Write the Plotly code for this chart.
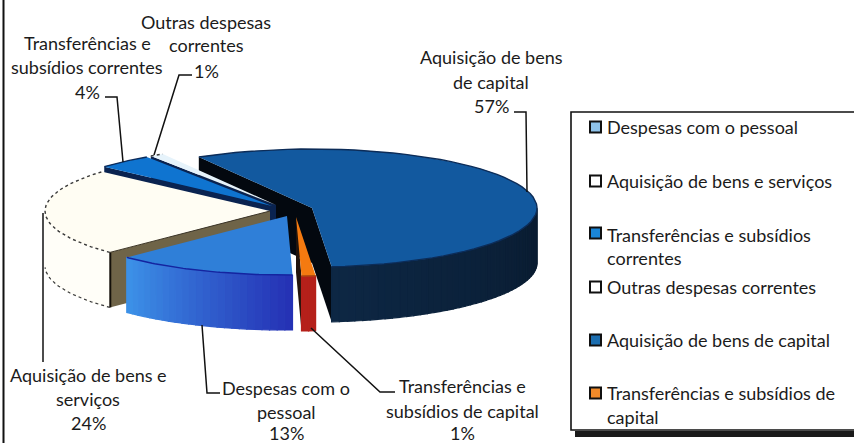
import math
import plotly.graph_objects as go

# ---- data ----
categories = ["Despesas com o pessoal", "Aquisição de bens e serviços",
              "Transferências e subsídios correntes", "Outras despesas correntes",
              "Aquisição de bens de capital", "Transferências e subsídios de capital"]
percent = [13, 24, 4, 1, 57, 1]

# ---- look ----
FONT = "Lato"
TXT = "#1b1b1b"
W, H = 854, 443
RX, RY, DEPTH = 225, 59, 55
# slice centres after "explosion", in page pixels
centres = [(287, 216), (270, 211), (272, 206), (276, 205), (312, 208), (296, 217)]
top_col = ["#2f7fd8", "#fffdf3", "#0f74d0", "#e6f3fb", "#12599f", "#f47a10"]
side_a = ["#2530b4", "#fffef8", "#0a2a5a", "#0a2a5a", "#040a12", "#b5201a"]
side_b = ["#3c92e8", "#fffef8", "#0a2a5a", "#0a2a5a", "#0d2744", "#b5201a"]
face_col = ["#101a50", "#6f6448", "#0a2350", "#0a2350", "#03080f", "#21140c"]
rim_col = ["#1424a0", "#3a3a3a", "#0a2a5a", "#3a3a3a", "#0c2c58", "#b04a10"]
rim_dash = ["solid", "dot", "solid", "dot", "solid", "solid"]
# which cut faces show: start / end of the clockwise sweep
show_face = [(False, False), (True, False), (True, False), (True, False), (True, True), (False, True)]
draw_order = [4, 3, 2, 1, 5, 0]

legend_fill = ["#8fc3ea", "#ffffff", "#1a86d8", "#ffffff", "#1c6eb0", "#f08a2a"]
legend_y = [127, 181, 233, 287, 340, 393]
legend_lines = [
    [("Despesas com o pessoal", 127)],
    [("Aquisição de bens e serviços", 181)],
    [("Transferências e subsídios", 235), ("correntes", 258)],
    [("Outras despesas correntes", 287)],
    [("Aquisição de bens de capital", 340)],
    [("Transferências e subsídios de", 393), ("capital", 417)],
]
labels = [
    (["Despesas com o", "pessoal", "13%"], 286, [388, 412, 433], [(202, 325), (207, 393), (220, 393)]),
    (["Aquisição de bens e", "serviços", "24%"], 88, [375, 399, 423], [(43, 213), (43, 362)]),
    (["Transferências e", "subsídios correntes", "4%"], 87, [43, 67, 92], [(105, 97), (117, 97), (123, 162)]),
    (["Outras despesas", "correntes", "1%"], 206, [22, 45, 71], [(192, 75), (179, 75), (154, 155)]),
    (["Aquisição de bens", "de capital", "57%"], 491, [57, 82, 106], [(514, 112), (526, 112), (527, 192)]),
    (["Transferências e", "subsídios de capital", "1%"], 462, [386, 411, 433], [(311, 328), (380, 392), (395, 392)]),
]

fig = go.Figure()


def poly(xs, ys, fill, line=None, width=0, dash="solid"):
    fig.add_trace(go.Scatter(x=xs, y=ys, mode="lines", fill="toself", fillcolor=fill,
                             line=dict(color=line or fill, width=width, dash=dash),
                             hoverinfo="skip", showlegend=False))


def line(xs, ys, col, width=1.0, dash="solid"):
    fig.add_trace(go.Scatter(x=xs, y=ys, mode="lines", line=dict(color=col, width=width, dash=dash),
                             hoverinfo="skip", showlegend=False))


def hex_mix(a, b, t):
    ca = [int(a[i:i + 2], 16) for i in (1, 3, 5)]
    cb = [int(b[i:i + 2], 16) for i in (1, 3, 5)]
    return "#" + "".join(f"{round(x + (y - x) * t):02x}" for x, y in zip(ca, cb))


def rim(c, deg):
    r = math.radians(deg)
    return c[0] + RX * math.cos(r), c[1] - RY * math.sin(r)


# sweep clockwise from the first slice's start
spans = []
a = -88.6
for p in percent:
    spans.append((a, a - p * 3.6))
    a -= p * 3.6

for i in draw_order:
    c = centres[i]
    a0, a1 = spans[i]
    # cut faces
    for show, ang in zip(show_face[i], (a0, a1)):
        if show:
            x, y = rim(c, ang)
            poly([c[0], x, x, c[0], c[0]], [c[1], y, y + DEPTH, c[1] + DEPTH, c[1]], face_col[i])
    # outer wall, only the front half
    n = max(2, int(abs(a1 - a0) / 2) + 2)
    angs = [a0 + (a1 - a0) * k / (n - 1) for k in range(n)]
    for k in range(n - 1):
        u, v = angs[k], angs[k + 1]
        su, sv = math.sin(math.radians(u)), math.sin(math.radians(v))
        if su >= 0 and sv >= 0:
            continue
        u2 = round(u / 180) * 180 if su >= 0 else u
        v2 = round(v / 180) * 180 if sv >= 0 else v
        x0, y0 = rim(c, u2)
        x1, y1 = rim(c, v2)
        col = hex_mix(side_a[i], side_b[i], (k + 0.5) / (n - 1))
        poly([x0, x1, x1, x0, x0], [y0, y1, y1 + DEPTH, y0 + DEPTH, y0], col, col, 1.2)
    # top surface
    fine = [a0 + (a1 - a0) * k / 60 for k in range(61)]
    pts = [rim(c, t) for t in fine]
    xs = [c[0]] + [p[0] for p in pts] + [c[0]]
    ys = [c[1]] + [p[1] for p in pts] + [c[1]]
    poly(xs, ys, top_col[i])
    line([p[0] for p in pts], [p[1] for p in pts], rim_col[i], 1.4, rim_dash[i])
    # bottom edge of the white wall
    if i == 1:
        low = [t for t in fine if math.sin(math.radians(t)) < 0]
        line([rim(c, t)[0] for t in low], [rim(c, t)[1] + DEPTH for t in low], "#3a3a3a", 1.2, "dot")
        x, y = rim(c, a0)
        line([x + 0.5, x + 0.5], [y, y + DEPTH], "#14100a", 2)
        line([x, c[0]], [y, c[1]], "#3d3526", 1)

# leader lines and pie labels
anns = []
for text_lines, cx, ys, leader in labels:
    line([p[0] for p in leader], [p[1] for p in leader], "#111111", 1.5)
    for t, y in zip(text_lines, ys):
        anns.append(dict(x=cx, y=y, text=t, xref="x", yref="y", showarrow=False,
                         xanchor="center", yanchor="middle",
                         font=dict(family=FONT, size=18, color=TXT)))

# legend
fig.add_trace(go.Scatter(x=[595.5] * len(categories), y=legend_y, mode="markers",
                         marker=dict(symbol="square", size=11, color=legend_fill,
                                     line=dict(color="#101010", width=2)),
                         hoverinfo="skip", showlegend=False))
for rows in legend_lines:
    for t, y in rows:
        anns.append(dict(x=605, y=y, text=t, xref="x", yref="y", showarrow=False,
                         xanchor="left", yanchor="middle",
                         font=dict(family=FONT, size=18, color=TXT)))

shapes = [
    dict(type="rect", x0=575, x1=860, y0=431, y1=437, fillcolor="#1a1a1a", line=dict(width=0), layer="below"),
    dict(type="rect", x0=571, x1=860, y0=112, y1=430, fillcolor="white",
         line=dict(color="#111111", width=1.6), layer="below"),
    dict(type="line", x0=3.5, x1=3.5, y0=0, y1=443, line=dict(color="#111111", width=2), layer="below"),
]

fig.update_layout(
    width=W, height=H, margin=dict(l=0, r=0, t=0, b=0),
    paper_bgcolor="white", plot_bgcolor="white", showlegend=False,
    xaxis=dict(range=[0, W], visible=False, fixedrange=True),
    yaxis=dict(range=[H, 0], visible=False, fixedrange=True),
    annotations=anns, shapes=shapes,
)
fig.write_html("out.html", config={"displayModeBar": False},
               post_script="document.body.style.margin='0';document.body.style.overflow='hidden';")
